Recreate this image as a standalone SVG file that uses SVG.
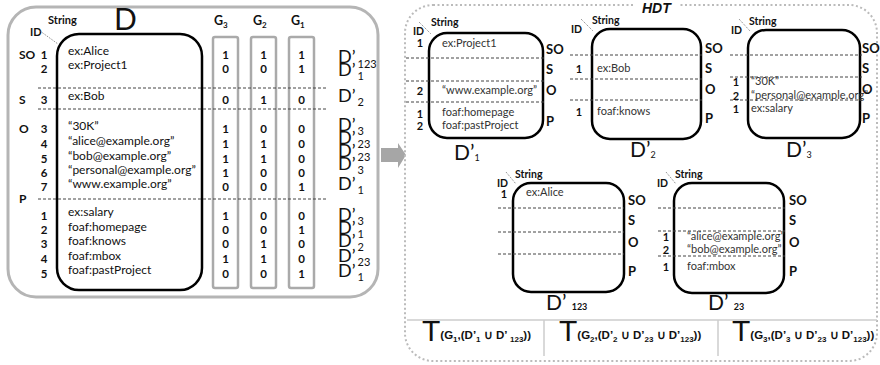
<svg xmlns="http://www.w3.org/2000/svg" width="880" height="365" viewBox="0 0 880 365">
<style>
text{font-family:Lato,"Liberation Sans",sans-serif;fill:#111}
.lbl{font-weight:bold;font-size:12px}
.rl{font-weight:bold;font-size:13px}
.num{font-weight:bold;font-size:11.5px;text-anchor:middle}
.rnum{font-weight:bold;font-size:11px;text-anchor:middle}
.str{font-size:12px;fill:#333}
.rstr{font-size:11px;fill:#333}
.hdr{font-weight:bold;font-size:10.5px}
.dl{font-size:18px}
.dsub{font-size:11px}
.big{font-size:21px}
.bsub{font-size:9px}
.dash{stroke:#444;stroke-width:1;stroke-dasharray:3 2;fill:none}
.box{fill:none;stroke:#000;stroke-width:2.5}
.col{fill:none;stroke:#aaa;stroke-width:2.5}
.dot{stroke:#555;stroke-width:0.8;stroke-dasharray:1 1.2;fill:none}
.tbig{font-family:"Liberation Sans",Arial,sans-serif;font-size:30px}
.tsub{font-family:"Liberation Sans",Arial,sans-serif;font-weight:bold;font-size:11.5px}
.tss{font-size:8px}
</style>

<g id="panel-D">
  <rect x="8" y="7" width="370" height="290" rx="28" fill="none" stroke="#b5b5b5" stroke-width="3"/>
  <rect class="box" x="57" y="34" width="145" height="256" rx="22"/>
  <text x="114" y="30" style="font-size:30px">D</text>
  <text class="hdr" x="48" y="24" style="font-size:11px">String</text>
  <text class="hdr" x="30" y="36" style="font-size:11px">ID</text>
  <line class="dot" x1="40" y1="31" x2="58" y2="44"/>
  <rect class="col" x="213" y="37" width="25" height="251" rx="2"/>
  <rect class="col" x="251" y="37" width="25" height="251" rx="2"/>
  <rect class="col" x="289" y="37" width="25" height="251" rx="2"/>
  <text class="lbl" x="214" y="25" style="font-size:12.5px">G<tspan style="font-size:8px" dy="3">3</tspan></text>
  <text class="lbl" x="253" y="25" style="font-size:12.5px">G<tspan style="font-size:8px" dy="3">2</tspan></text>
  <text class="lbl" x="291" y="25" style="font-size:12.5px">G<tspan style="font-size:8px" dy="3">1</tspan></text>
  <line class="dash" x1="38" y1="88" x2="327" y2="88"/>
  <line class="dash" x1="38" y1="109" x2="327" y2="109"/>
  <line class="dash" x1="38" y1="199" x2="327" y2="199"/>
  <text class="lbl" x="19" y="59">SO</text>
  <text class="lbl" x="19" y="104">S</text>
  <text class="lbl" x="19" y="133">O</text>
  <text class="lbl" x="19" y="203">P</text>
  <g class="num">
    <text x="44" y="59">1</text><text x="44" y="73">2</text>
    <text x="44" y="104">3</text>
    <text x="44" y="133">3</text><text x="44" y="148">4</text><text x="44" y="163">5</text><text x="44" y="177">6</text><text x="44" y="191">7</text>
    <text x="44" y="220">1</text><text x="44" y="234">2</text><text x="44" y="248">3</text><text x="44" y="263">4</text><text x="44" y="278">5</text>
  </g>
  <g class="str">
    <text x="68" y="55">ex:Alice</text>
    <text x="68" y="69">ex:Project1</text>
    <text x="68" y="100">ex:Bob</text>
    <text x="68" y="130">“30K”</text>
    <text x="68" y="145">“alice@example.org”</text>
    <text x="68" y="160">“bob@example.org”</text>
    <text x="68" y="174">“personal@example.org”</text>
    <text x="68" y="188">“www.example.org”</text>
    <text x="68" y="216">ex:salary</text>
    <text x="68" y="231">foaf:homepage</text>
    <text x="68" y="245">foaf:knows</text>
    <text x="68" y="260">foaf:mbox</text>
    <text x="68" y="274">foaf:pastProject</text>
  </g>
  <g class="num">
    <text x="225.5" y="59">1</text><text x="263.5" y="59">1</text><text x="301.5" y="59">1</text>
    <text x="225.5" y="73">0</text><text x="263.5" y="73">0</text><text x="301.5" y="73">1</text>
    <text x="225.5" y="104">0</text><text x="263.5" y="104">1</text><text x="301.5" y="104">0</text>
    <text x="225.5" y="133">1</text><text x="263.5" y="133">0</text><text x="301.5" y="133">0</text>
    <text x="225.5" y="148">1</text><text x="263.5" y="148">1</text><text x="301.5" y="148">0</text>
    <text x="225.5" y="163">1</text><text x="263.5" y="163">1</text><text x="301.5" y="163">0</text>
    <text x="225.5" y="177">1</text><text x="263.5" y="177">0</text><text x="301.5" y="177">0</text>
    <text x="225.5" y="191">0</text><text x="263.5" y="191">0</text><text x="301.5" y="191">1</text>
    <text x="225.5" y="220">1</text><text x="263.5" y="220">0</text><text x="301.5" y="220">0</text>
    <text x="225.5" y="234">0</text><text x="263.5" y="234">0</text><text x="301.5" y="234">1</text>
    <text x="225.5" y="248">0</text><text x="263.5" y="248">1</text><text x="301.5" y="248">0</text>
    <text x="225.5" y="263">1</text><text x="263.5" y="263">1</text><text x="301.5" y="263">0</text>
    <text x="225.5" y="278">0</text><text x="263.5" y="278">0</text><text x="301.5" y="278">1</text>
  </g>
  <g class="dl">
    <text x="338" y="63">D’<tspan class="dsub" dx="2" dy="5">123</tspan></text>
    <text x="338" y="76">D’<tspan class="dsub" dx="2" dy="4">1</tspan></text>
    <text x="338" y="102">D’<tspan class="dsub" dx="2" dy="4">2</tspan></text>
    <text x="338" y="131">D’<tspan class="dsub" dx="2" dy="4">3</tspan></text>
    <text x="338" y="144">D’<tspan class="dsub" dx="2" dy="4">23</tspan></text>
    <text x="338" y="157">D’<tspan class="dsub" dx="2" dy="4">23</tspan></text>
    <text x="338" y="170">D’<tspan class="dsub" dx="2" dy="4">3</tspan></text>
    <text x="338" y="190">D’<tspan class="dsub" dx="2" dy="4">1</tspan></text>
    <text x="338" y="221">D’<tspan class="dsub" dx="2" dy="4">3</tspan></text>
    <text x="338" y="234">D’<tspan class="dsub" dx="2" dy="4">1</tspan></text>
    <text x="338" y="247">D’<tspan class="dsub" dx="2" dy="4">2</tspan></text>
    <text x="338" y="262">D’<tspan class="dsub" dx="2" dy="4">23</tspan></text>
    <text x="338" y="277">D’<tspan class="dsub" dx="2" dy="4">1</tspan></text>
  </g>
</g>

<g id="connectors">
  <polygon points="381,148 398,148 398,143 406,155 398,168 398,162 381,162" fill="#a6a6a6"/>
</g>

<g id="panel-HDT">
  <rect x="405" y="5" width="472" height="356" rx="28" fill="none" stroke="#bbb" stroke-width="2" stroke-dasharray="2 2.5"/>
  <rect x="634" y="0" width="44" height="13" fill="#fff"/>
  <text x="642" y="13" style="font-family:'Liberation Sans',Arial,sans-serif;font-weight:bold;font-style:italic;font-size:14px">HDT</text>
  <line x1="407" y1="320" x2="877" y2="320" stroke="#ccc" stroke-width="1.5"/>
  <line x1="544" y1="320" x2="544" y2="356" stroke="#ccc" stroke-width="1.5"/>
  <line x1="718" y1="320" x2="718" y2="356" stroke="#ccc" stroke-width="1.5"/>
</g>

<g id="D1">
  <rect class="box" x="429" y="33" width="114" height="105" rx="18"/>
  <text class="hdr" x="431" y="26">String</text>
  <text class="hdr" x="413" y="35">ID</text>
  <line class="dot" x1="419" y1="22" x2="431" y2="34"/>
  <line class="dash" x1="406" y1="58" x2="545" y2="58"/>
  <line class="dash" x1="406" y1="81" x2="545" y2="81"/>
  <line class="dash" x1="406" y1="102" x2="545" y2="102"/>
  <text class="rnum" x="420" y="47">1</text><text class="rstr" x="442" y="47">ex:Project1</text>
  <text class="rnum" x="420" y="95">2</text><text class="rstr" x="442" y="94">“www.example.org”</text>
  <text class="rnum" x="420" y="118">1</text><text class="rstr" x="442" y="116">foaf:homepage</text>
  <text class="rnum" x="420" y="130">2</text><text class="rstr" x="442" y="129">foaf:pastProject</text>
  <text class="rl" x="546" y="54">SO</text><text class="rl" x="546" y="74">S</text><text class="rl" x="546" y="95">O</text><text class="rl" x="546" y="126">P</text>
  <text class="big" x="454" y="160">D’<tspan class="bsub" dy="1">1</tspan></text>
</g>

<g id="D2">
  <rect class="box" x="592" y="29" width="109" height="110" rx="18"/>
  <text class="hdr" x="592" y="24">String</text>
  <text class="hdr" x="571" y="33">ID</text>
  <line class="dot" x1="581" y1="19" x2="593" y2="31"/>
  <line class="dash" x1="570" y1="55" x2="702" y2="55"/>
  <line class="dash" x1="570" y1="79" x2="702" y2="79"/>
  <line class="dash" x1="570" y1="100" x2="702" y2="100"/>
  <text class="rnum" x="579" y="73">1</text><text class="rstr" x="597" y="72">ex:Bob</text>
  <text class="rnum" x="579" y="116">1</text><text class="rstr" x="597" y="115">foaf:knows</text>
  <text class="rl" x="705" y="53">SO</text><text class="rl" x="705" y="73">S</text><text class="rl" x="705" y="94">O</text><text class="rl" x="705" y="123">P</text>
  <text class="big" x="630" y="157">D’<tspan class="bsub" dy="1">2</tspan></text>
</g>

<g id="D3">
  <rect class="box" x="748" y="30" width="112" height="108" rx="18"/>
  <text class="hdr" x="749" y="25">String</text>
  <text class="hdr" x="731" y="34">ID</text>
  <line class="dot" x1="739" y1="19" x2="750" y2="31"/>
  <line class="dash" x1="730" y1="55" x2="862" y2="55"/>
  <line class="dash" x1="730" y1="77" x2="862" y2="77"/>
  <line class="dash" x1="730" y1="100" x2="862" y2="100"/>
  <text class="rnum" x="736" y="86">1</text><text class="rstr" x="751" y="85">“30K”</text>
  <text class="rnum" x="736" y="100">2</text><text class="rstr" x="751" y="99">“personal@example.org”</text>
  <text class="rnum" x="736" y="113">1</text><text class="rstr" x="751" y="112">ex:salary</text>
  <text class="rl" x="862" y="53">SO</text><text class="rl" x="862" y="73">S</text><text class="rl" x="862" y="94">O</text><text class="rl" x="862" y="123">P</text>
  <text class="big" x="786" y="157">D’<tspan class="bsub" dy="1">3</tspan></text>
</g>

<g id="D123">
  <rect class="box" x="513" y="183" width="111" height="109" rx="18"/>
  <text class="hdr" x="515" y="178">String</text>
  <text class="hdr" x="497" y="187">ID</text>
  <line class="dot" x1="506" y1="172" x2="516" y2="184"/>
  <line class="dash" x1="498" y1="208" x2="624" y2="208"/>
  <line class="dash" x1="498" y1="232" x2="624" y2="232"/>
  <line class="dash" x1="498" y1="254" x2="624" y2="254"/>
  <text class="rnum" x="504" y="198">1</text><text class="rstr" x="526" y="196">ex:Alice</text>
  <text class="rl" x="628" y="205">SO</text><text class="rl" x="628" y="225">S</text><text class="rl" x="628" y="247">O</text><text class="rl" x="628" y="276">P</text>
  <text class="big" x="546" y="310">D’ <tspan class="bsub" style="font-weight:bold">123</tspan></text>
</g>

<g id="D23">
  <rect class="box" x="674" y="183" width="110" height="110" rx="18"/>
  <text class="hdr" x="675" y="178">String</text>
  <text class="hdr" x="657" y="187">ID</text>
  <line class="dot" x1="666" y1="172" x2="676" y2="184"/>
  <line class="dash" x1="658" y1="208" x2="785" y2="208"/>
  <line class="dash" x1="658" y1="231" x2="785" y2="231"/>
  <line class="dash" x1="658" y1="256" x2="785" y2="256"/>
  <text class="rnum" x="666" y="241">1</text><text class="rstr" x="687" y="240">“alice@example.org”</text>
  <text class="rnum" x="666" y="254">2</text><text class="rstr" x="687" y="253">“bob@example.org”</text>
  <text class="rnum" x="666" y="271">1</text><text class="rstr" x="687" y="270">foaf:mbox</text>
  <text class="rl" x="789" y="205">SO</text><text class="rl" x="789" y="225">S</text><text class="rl" x="789" y="247">O</text><text class="rl" x="789" y="276">P</text>
  <text class="big" x="708" y="310">D’ <tspan class="bsub" style="font-weight:bold">23</tspan></text>
</g>

<g id="triples">
  <text class="tbig" x="422" y="341">T<tspan class="tsub" dy="-2">(G<tspan class="tss" dy="3">1</tspan><tspan dy="-3">,(D’</tspan><tspan class="tss" dy="3">1</tspan><tspan dy="-3"> ∪ D’ </tspan><tspan class="tss" dy="3">123</tspan><tspan dy="-3">))</tspan></tspan></text>
  <text class="tbig" x="559" y="341">T<tspan class="tsub" dy="-2">(G<tspan class="tss" dy="3">2</tspan><tspan dy="-3">,(D’</tspan><tspan class="tss" dy="3">2</tspan><tspan dy="-3"> ∪ D’</tspan><tspan class="tss" dy="3">23</tspan><tspan dy="-3"> ∪ D’</tspan><tspan class="tss" dy="3">123</tspan><tspan dy="-3">))</tspan></tspan></text>
  <text class="tbig" x="732" y="341">T<tspan class="tsub" dy="-2">(G<tspan class="tss" dy="3">3</tspan><tspan dy="-3">,(D’</tspan><tspan class="tss" dy="3">3</tspan><tspan dy="-3"> ∪ D’</tspan><tspan class="tss" dy="3">23</tspan><tspan dy="-3"> ∪ D’</tspan><tspan class="tss" dy="3">123</tspan><tspan dy="-3">))</tspan></tspan></text>
</g>
</svg>
